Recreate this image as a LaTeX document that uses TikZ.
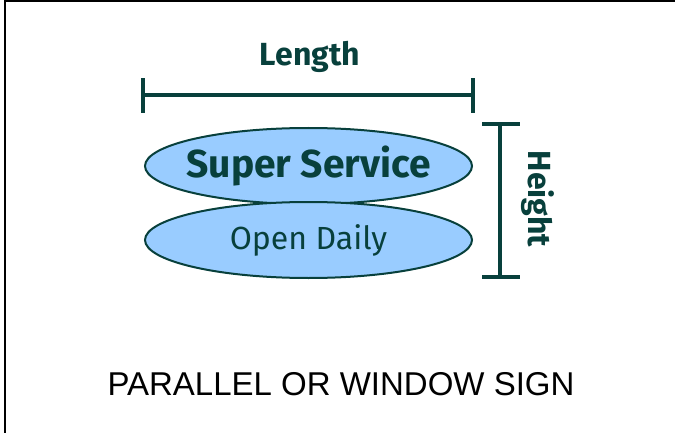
\documentclass[tikz,border=0pt]{standalone}
\usepackage{fontspec}
\setmainfont{Liberation Sans}
\newfontfamily\signfont{Fira Sans}
\usetikzlibrary{shapes.geometric,positioning}
\definecolor{sgteal}{RGB}{8,64,60}
\definecolor{sgsky}{RGB}{153,204,255}
\tikzset{
    oval/.style={
        ellipse,draw=sgteal,line width=2pt,fill=sgsky,
        minimum width=327pt,minimum height=76pt,inner sep=0pt,
        text=sgteal
    },
    dimline/.style={
        draw=sgteal,line width=4.5pt
    },
    dimlabel/.style={
        text=sgteal,font=\signfont\bfseries\fontsize{32}{32}\selectfont
    }
}
\begin{document}
\begin{tikzpicture}[x=1pt,y=-1pt]
\useasboundingbox (0,0) rectangle (675,433);

% frame
\draw[line width=2.5pt] (5,433) -- (5,1.2) -- (675,1.2);

% the two ovals
\node[oval] (super) at (308.5,166)
{\makebox[0pt]{\signfont\bfseries\fontsize{39}{39}\selectfont Super Service}};
\node[oval] (open) at (308.5,240)
{\makebox[0pt]{\signfont\fontsize{32}{32}\selectfont Open Daily}};

% length bar
\coordinate (lenL) at (143,95);
\coordinate (lenR) at (473,95);
\draw[dimline] (lenL) -- (lenR);
\draw[dimline] ([yshift=-18pt]lenL) -- ([yshift=17pt]lenL);
\draw[dimline] ([yshift=-18pt]lenR) -- ([yshift=17pt]lenR);
\node[dimlabel,anchor=base] (len) at (310,66) {Length};

% height bar
\coordinate (hgtT) at (500,124);
\coordinate (hgtB) at (500,277);
\draw[dimline] (hgtT) -- (hgtB);
\draw[dimline] ([xshift=-18pt]hgtT) -- ([xshift=20pt]hgtT);
\draw[dimline] ([xshift=-18pt]hgtB) -- ([xshift=20pt]hgtB);
\node[dimlabel,rotate=-90] (hgt) at (538,199) {Height};

% caption
\node[anchor=base,font=\fontsize{33}{33}\selectfont] (caption) at (341,395)
{PARALLEL OR WINDOW SIGN};

\end{tikzpicture}
\end{document}
